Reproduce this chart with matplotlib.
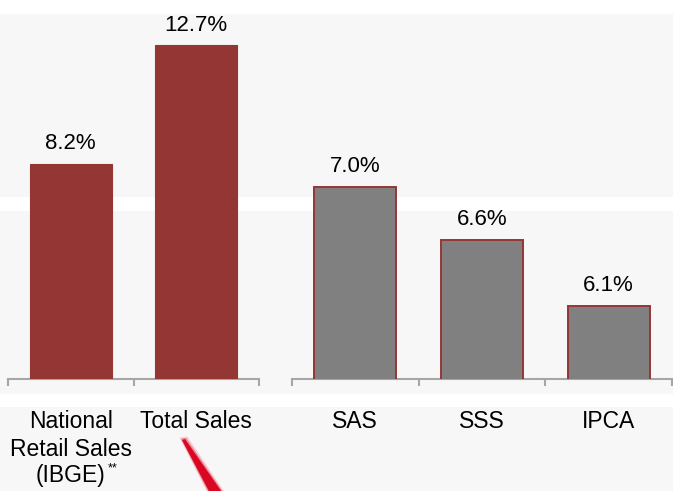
import matplotlib
matplotlib.use("Agg")
import matplotlib.pyplot as plt
from matplotlib.patches import Rectangle, Polygon
from matplotlib.transforms import blended_transform_factory

W, H, DPI = 673, 491, 100

# Market growth vs. company growth
market_labels = ["National\nRetail Sales", "Total Sales"]
market_footnote = "(IBGE)"
market_values = [8.2, 12.7]
company_labels = ["SAS", "SSS", "IPCA"]
company_values = [7.0, 6.6, 6.1]

RED = "#943634"
GRAY = "#808080"
AXIS = "#a6a6a6"
PANEL = "#f7f7f7"
LABEL_SIZE = 16.5
VALUE_SIZE = 16

plt.rcParams["font.family"] = ["Liberation Sans", "DejaVu Sans"]

fig = plt.figure(figsize=(W / DPI, H / DPI), dpi=DPI, facecolor=PANEL)


def px_box(left, top, width, height):
    return [left / W, 1 - (top + height) / H, width / W, height / H]


# white separator bands across the slide background
for top, height in [(0, 14), (197, 14), (394, 13)]:
    fig.patches.append(Rectangle((0, 1 - (top + height) / H), 1, height / H,
                                 transform=fig.transFigure, facecolor="white",
                                 edgecolor="none", zorder=-1))


def style(ax, labels):
    n = len(labels)
    ax.set_facecolor("none")
    for s in ("top", "left", "right"):
        ax.spines[s].set_visible(False)
    ax.spines["bottom"].set_color(AXIS)
    ax.spines["bottom"].set_linewidth(1.5)
    ax.set_xlim(-0.5, n - 0.5)
    ax.set_yticks([])
    ax.set_xticks(range(n), labels, fontsize=LABEL_SIZE, linespacing=1.3)
    ax.set_xticks([i - 0.5 for i in range(n + 1)], minor=True)
    ax.tick_params(axis="x", which="major", length=0, pad=22)
    ax.tick_params(axis="x", which="minor", length=5, width=1.5, color=AXIS)


# left chart: market
ax1 = fig.add_axes(px_box(8, 14, 251, 365))
style(ax1, market_labels)
ax1.set_ylim(0, 13.89)
b1 = ax1.bar(range(len(market_values)), market_values, width=0.65,
             color=RED, edgecolor=RED, linewidth=0.8, zorder=3)
ax1.bar_label(b1, labels=[f"{v:.1f}%" for v in market_values],
              padding=7, fontsize=VALUE_SIZE)

# third line of the first category label, with its footnote marker
under_axis = blended_transform_factory(ax1.transData, ax1.transAxes)
ax1.annotate(market_footnote, xy=(0, 0), xycoords=under_axis,
             xytext=(0, -103), textcoords="offset pixels",
             ha="center", va="baseline", fontsize=LABEL_SIZE)
ax1.annotate("**", xy=(0, 0), xycoords=under_axis,
             xytext=(37, -92), textcoords="offset pixels",
             ha="left", va="baseline", fontsize=9)

# right chart: company
ax2 = fig.add_axes(px_box(292, 14, 380, 365))
style(ax2, company_labels)
ax2.set_ylim(5.55, 8.30)
b2 = ax2.bar(range(len(company_values)), company_values, width=0.65,
             color=GRAY, edgecolor=RED, linewidth=1.4, zorder=3)
ax2.bar_label(b2, labels=[f"{v:.1f}%" for v in company_values],
              padding=7, fontsize=VALUE_SIZE)


# red pointer stroke at the bottom
def fig_pts(pts):
    return [(x / W, 1 - y / H) for x, y in pts]


for grow, alpha in [(2.5, 0.15), (1.2, 0.35), (0, 0.95)]:
    pts = [(182 - grow, 440 - grow), (185 + grow, 439 - grow),
           (224 + grow, 495), (211 - grow, 495)]
    fig.patches.append(Polygon(fig_pts(pts), closed=True,
                               transform=fig.transFigure,
                               facecolor="#d9001b", edgecolor="none",
                               alpha=alpha, zorder=5))

fig.savefig("out.png", dpi=DPI, facecolor=PANEL)
